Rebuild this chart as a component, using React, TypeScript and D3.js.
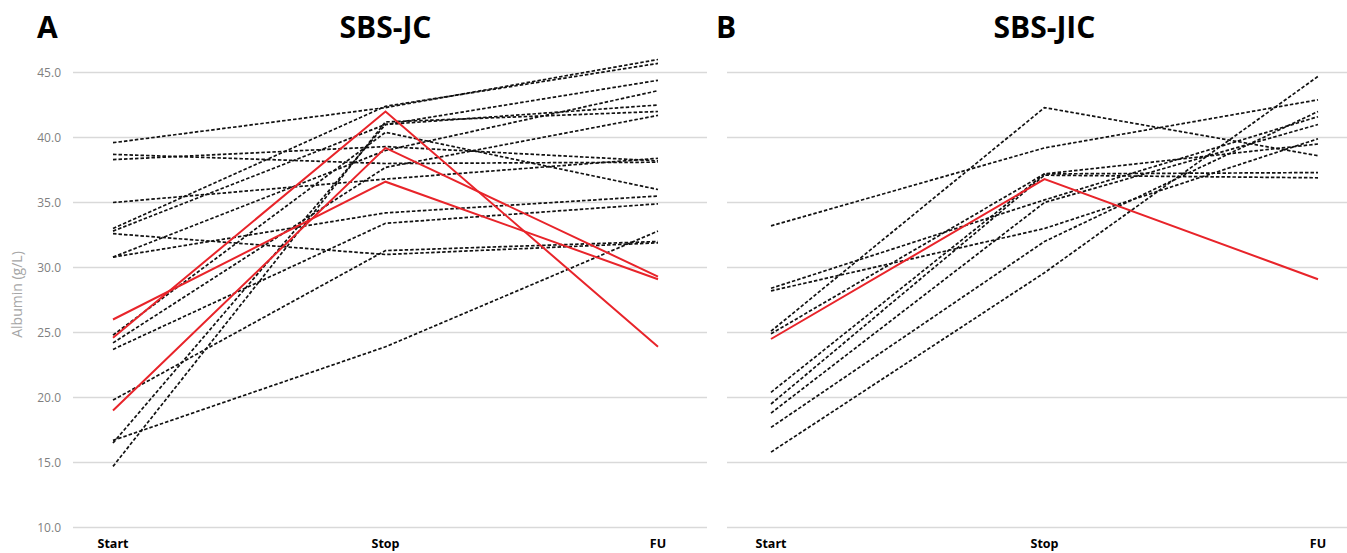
import React from 'react';
import * as d3 from 'd3';

// time points on the x axis
const timepoints = ['Start', 'Stop', 'FU'];
const yTicks = [10, 15, 20, 25, 30, 35, 40, 45];

// SBS-JC: each row is one patient (Start, Stop, FU), albumin g/L
const jcDashed = [
  [39.6, 42.3, 46.0],
  [33.0, 42.4, 45.7],
  [38.7, 38.0, 38.1],
  [38.3, 39.3, 38.2],
  [35.0, 36.8, 38.4],
  [32.8, 41.0, 44.4],
  [32.6, 31.0, 31.9],
  [30.8, 39.0, 43.6],
  [30.8, 34.2, 35.5],
  [24.8, 40.4, 36.0],
  [24.2, 37.7, 41.7],
  [23.7, 33.4, 34.9],
  [19.8, 31.3, 32.0],
  [16.7, 23.9, 32.8],
  [16.5, 41.0, 42.5],
  [14.7, 41.2, 42.0],
];
const jcRed = [
  [26.0, 36.6, 29.1],
  [24.6, 42.0, 23.9],
  [19.0, 39.2, 29.3],
];

// SBS-JIC
const jicDashed = [
  [33.2, 39.2, 42.9],
  [25.1, 42.3, 38.6],
  [28.4, 35.2, 41.6],
  [28.2, 33.0, 39.9],
  [24.9, 37.2, 39.5],
  [20.4, 37.2, 37.3],
  [19.5, 37.1, 36.9],
  [18.8, 35.0, 41.0],
  [17.7, 32.0, 42.0],
  [15.8, 29.6, 44.7],
];
const jicRed = [
  [24.5, 36.8, 29.1],
];

const W = 1347, H = 553;
const font = '"Open Sans", "Liberation Sans", sans-serif';
const red = '#e8242a';

const y = d3.scaleLinear().domain([10, 45]).range([527.5, 72.5]);

type PanelProps = {
  letter: string;
  title: string;
  gridX: [number, number];
  pointX: [number, number];
  letterX: number;
  dashed: number[][];
  reds: number[][];
  showAxis: boolean;
};

const Panel = ({ letter, title, gridX, pointX, letterX, dashed, reds, showAxis }: PanelProps) => {
  const x = d3.scalePoint<string>().domain(timepoints).range(pointX);
  const line = d3.line<number>()
    .x((_, i) => x(timepoints[i]) as number)
    .y(d => y(d));
  const mid = x('Stop') as number;

  return (
    <g>
      <text x={letterX} y={38} fontFamily={font} fontWeight={700} fontSize={30} fill="#000">{letter}</text>
      <text x={mid} y={38} textAnchor="middle" fontFamily={font} fontWeight={700} fontSize={30} fill="#000">{title}</text>

      {yTicks.map(t => (
        <line key={t} x1={gridX[0]} x2={gridX[1]} y1={y(t)} y2={y(t)} stroke="#d9d9d9" strokeWidth={1.3} />
      ))}

      {showAxis && yTicks.map(t => (
        <text key={'l' + t} x={61} y={y(t)} dy="0.35em" textAnchor="end" fontFamily={font} fontSize={12} fill="#7f7f7f">
          {d3.format('.1f')(t)}
        </text>
      ))}
      {showAxis && (
        <text transform={`translate(22, ${y(25) - 38}) rotate(-90)`} textAnchor="middle"
          fontFamily={font} fontSize={14} fill="#a6a6a6">Albumin (g/L)</text>
      )}

      {dashed.map((d, i) => (
        <path key={'d' + i} d={line(d) || ''} fill="none" stroke="#111" strokeWidth={1.7} strokeDasharray="3.5,2" />
      ))}
      {reds.map((d, i) => (
        <path key={'r' + i} d={line(d) || ''} fill="none" stroke={red} strokeWidth={2} />
      ))}

      {timepoints.map(tp => (
        <text key={tp} x={x(tp) as number} y={548} textAnchor="middle" fontFamily={font} fontWeight={700} fontSize={12.5} fill="#000">
          {tp}
        </text>
      ))}
    </g>
  );
};

export default function App() {
  return (
    <svg width={W} height={H} style={{ position: 'absolute', left: 0, top: 0, background: '#fff' }}>
      <rect width={W} height={H} fill="#fff" />
      <Panel letter="A" title="SBS-JC" gridX={[73, 707]} pointX={[113, 658]} letterX={37}
        dashed={jcDashed} reds={jcRed} showAxis={true} />
      <Panel letter="B" title="SBS-JIC" gridX={[727, 1347]} pointX={[771, 1318]} letterX={716}
        dashed={jicDashed} reds={jicRed} showAxis={false} />
    </svg>
  );
}
